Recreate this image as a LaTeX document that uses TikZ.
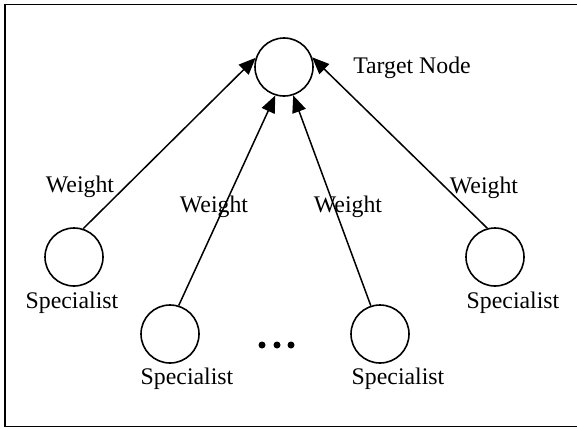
\documentclass[tikz,border=0pt]{standalone}
\usepackage{fontspec}
\setmainfont{Liberation Serif}
\usetikzlibrary{arrows.meta}

\begin{document}
\begin{tikzpicture}[x=0.5pt, y=-0.5pt, font=\fontsize{11.9}{14}\selectfont,
	unit/.style={draw, circle, line width=0.8pt, minimum size=29pt, inner sep=0pt},
	wire/.style={line width=0.75pt, -{Triangle[length=8.5pt, width=7pt]}},
	txt/.style={inner sep=0pt}]
				\clip (0,0) rectangle (577,428);
				\draw[line width=0.9pt] (590,4.5) -- (5,4.5) -- (5,426.5) -- (590,426.5);
				\node[unit] (T)at(284, 67) {};
				\node[txt] (TL)at(412, 68) {Target Node};
				\node[unit] (S1)at(74, 257) {};
				\node[unit] (S2)at(170, 334) {};
				\node[unit] (S3)at(380, 334) {};
				\node[unit] (S4)at(495, 257) {};
				\node[txt] (L1)at(72, 303) {Specialist};
				\node[txt] (L2)at(187, 379) {Specialist};
				\node[txt] (L3)at(398, 379) {Specialist};
				\node[txt] (L4)at(513, 303) {Specialist};
				\node[txt] (W1)at(80, 187) {Weight};
				\node[txt] (W2)at(214, 207) {Weight};
				\node[txt] (W3)at(348, 207) {Weight};
				\node[txt] (W4)at(484, 188) {Weight};
				\fill (262, 345) circle (1.75pt) (277, 345) circle (1.75pt) (291, 345) circle (1.75pt);
				\draw[wire] (S1.72) -- (T.162);
				\draw[wire] (S2.73) -- (T.253);
				\draw[wire] (S3.108) -- (T.288);
				\draw[wire] (S4.105) -- (T.19);
			\end{tikzpicture}
\end{document}
